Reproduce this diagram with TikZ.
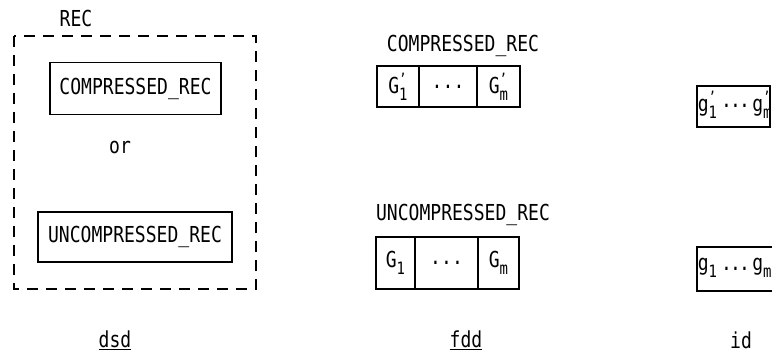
\documentclass[tikz,border=0pt]{standalone}
\usepackage{fontspec}
\setmainfont[FakeStretch=0.82]{DejaVu Sans Mono}
\newcommand{\bigtt}{\fontsize{22}{24}\selectfont}
\newcommand{\pr}{\symbol{39}}
\newcommand{\gsub}[3]{#1\rlap{\raisebox{0.75ex}{\fontsize{15}{15}\selectfont #3}}\raisebox{-0.6ex}{\fontsize{17}{17}\selectfont #2}}
\newcommand{\thdots}[1][22pt]{\makebox[#1]{\clap{.}\hfill\clap{.}\hfill\clap{.}}}
\begin{document}
\begin{tikzpicture}[x=1pt,y=-1pt,
  txt/.style={font=\bigtt, inner sep=0pt},
  box/.style={draw, line width=1.8pt, inner sep=0pt, font=\bigtt},
  dbox/.style={draw, line width=1.3pt, dash pattern=on 11pt off 8pt}]
\useasboundingbox (0,0) rectangle (772,357);
% dsd
\node[txt] (rec) at (76,18) {REC};
\draw[dbox] (14,36) rectangle (256,289);
\node[box, minimum width=171pt, minimum height=52pt] (crec) at (135.5,88.5) {COMPRESSED\_REC};
\node[txt] (or) at (120,147) {or};
\node[box, minimum width=194pt, minimum height=50pt] (urec) at (135,237) {UNCOMPRESSED\_REC};
\node[txt] (dsd) at (115,340) {\underline{dsd}};
% fdd
\node[txt] (fc) at (463,46) {COMPRESSED\_REC};
\node[box, minimum width=42pt, minimum height=41pt] (c1) at (398,86.5) {\gsub{G}{1}{\pr}};
\node[box, minimum width=58pt, minimum height=41pt] (c2) at (448,86.5) {\thdots};
\node[box, minimum width=43pt, minimum height=41pt] (c3) at (498.5,86.5) {\gsub{G}{m}{\pr}};
\node[txt] (fu) at (463,215) {UNCOMPRESSED\_REC};
\node[box, minimum width=39pt, minimum height=52pt] (u1) at (395.5,263) {\gsub{G}{1}{}};
\node[box, minimum width=63pt, minimum height=52pt] (u2) at (446.5,263) {\thdots};
\node[box, minimum width=41pt, minimum height=52pt] (u3) at (498.5,263) {\gsub{G}{m}{}};
\node[txt] (fdd) at (466,340) {\underline{fdd}};
% id
\node[box, minimum width=73pt, minimum height=41pt] (ic) at (733.5,106.5) {};
\node[txt] (ic1) at (707.5,105) {\gsub{g}{1}{\pr}};
\node[txt] (ic2) at (735.5,106) {\thdots[18pt]};
\node[txt] (ic3) at (762,105) {\gsub{g}{m}{\pr}};
\draw[line width=1.8pt] (772,247) -- (697,247) -- (697,291) -- (772,291);
\node[txt] (iu1) at (707.5,268) {\gsub{g}{1}{}};
\node[txt] (iu2) at (735.5,269) {\thdots[18pt]};
\node[txt] (iu3) at (762,268) {\gsub{g}{m}{}};
\node[txt] (id) at (741,340) {id};
\end{tikzpicture}
\end{document}
